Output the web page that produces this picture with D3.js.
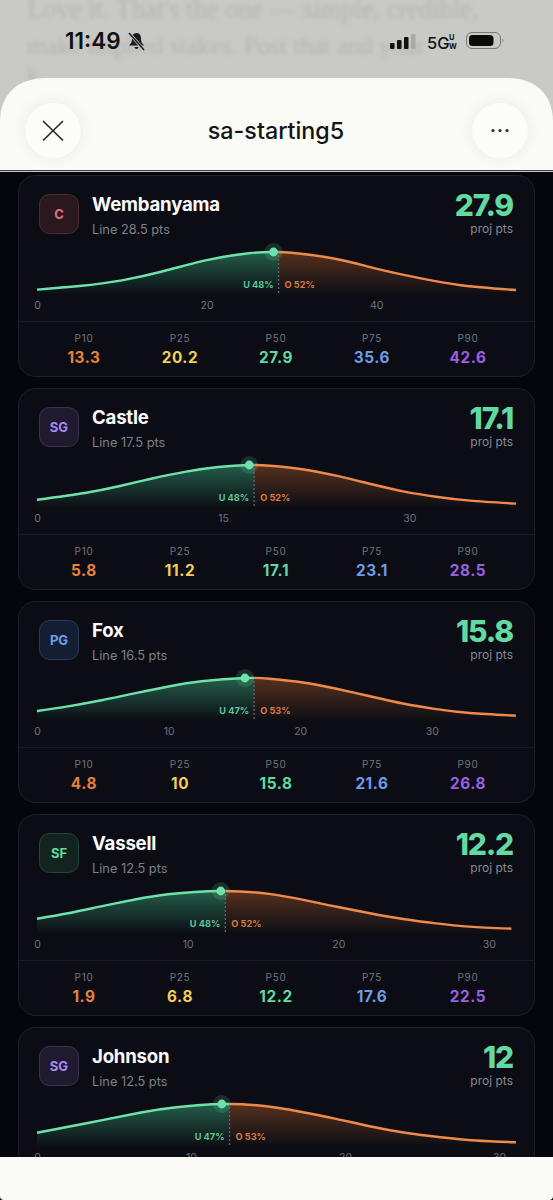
<!DOCTYPE html>
<html>
<head>
<meta charset="utf-8">
<title>sa-starting5</title>
<script src="https://cdn.jsdelivr.net/npm/d3@7"></script>
<style>
	html, body { margin: 0; padding: 0; background: #05060b; }
	svg { display: block; font-family: Inter, "Noto Sans", sans-serif; }
	.tick text { font-family: Inter, "Noto Sans", sans-serif; }
</style>
</head>
<body>
<script>
//chart values
var players = ["Wembanyama", "Castle", "Fox", "Vassell", "Johnson"];
var positions = ["C", "SG", "PG", "SF", "SG"];
var lines = [28.5, 17.5, 16.5, 12.5, 12.5];
var projections = [27.9, 17.1, 15.8, 12.2, 12];
var underPcts = [48, 48, 47, 48, 47];
var overPcts = [52, 52, 53, 52, 53];
var xMaxes = [56.5, 38.6, 36.4, 31.8, 31.1];
var xTicks = [[0, 20, 40], [0, 15, 30], [0, 10, 20, 30], [0, 10, 20, 30], [0, 10, 20, 30]];

//percentile row, Johnson's row is hidden under the bottom sheet
var pctLabels = ["P10", "P25", "P50", "P75", "P90"];
var pctColors = ["#e8803f", "#f0cf5a", "#62d9a0", "#6f9be8", "#9a5fe0"];
var pctValues = [
	[13.3, 20.2, 27.9, 35.6, 42.6],
	[5.8, 11.2, 17.1, 23.1, 28.5],
	[4.8, 10, 15.8, 21.6, 26.8],
	[1.9, 6.8, 12.2, 17.6, 22.5]
];

//distribution curves, points (height relative to its peak)
var curveX = [
	[0, 5, 10, 15, 20, 25, 27.9, 30, 35, 40, 45, 50, 56.5],
	[0, 3.85, 6.5, 9.2, 11.9, 14.6, 17.1, 18.8, 21.5, 24.2, 26.9, 29.5, 32.3, 34.9, 38.6],
	[0, 2.35, 4.9, 7.4, 10, 12.5, 15.8, 17.7, 20.2, 22.75, 25.3, 27.8, 30.35, 32.9, 36.4],
	[0, 2.06, 4.25, 6.5, 8.7, 12.2, 15.4, 17.7, 19.9, 22.1, 24.3, 26.5, 28.7, 31.5],
	[0, 3.3, 6.75, 9.05, 12, 14.75, 17.1, 19.35, 21.6, 23.9, 26.2, 28.5, 31.1]
];
var curveY = [
	[0.07, 0.16, 0.3, 0.53, 0.8, 0.97, 1, 0.98, 0.84, 0.59, 0.36, 0.18, 0.06],
	[0.143, 0.31, 0.47, 0.66, 0.83, 0.95, 1, 0.98, 0.89, 0.73, 0.53, 0.35, 0.21, 0.12, 0.045],
	[0.185, 0.3, 0.45, 0.62, 0.79, 0.92, 1, 0.98, 0.89, 0.735, 0.55, 0.37, 0.23, 0.135, 0.07],
	[0.316, 0.45, 0.62, 0.79, 0.92, 1, 0.93, 0.78, 0.61, 0.45, 0.31, 0.2, 0.12, 0.07],
	[0.29, 0.53, 0.79, 0.92, 1, 0.95, 0.81, 0.64, 0.45, 0.29, 0.18, 0.1, 0.055]
];

//badge colours per position
var badgeText = { C: "#e0707a", SG: "#a48cf0", PG: "#6f9fe8", SF: "#62d9a0" };
var badgeFill = { C: "#2a181e", SG: "#1f1a30", PG: "#141e33", SF: "#11241f" };
var badgeStroke = { C: "#4a2c33", SG: "#3a3350", PG: "#2b3a58", SF: "#24453a" };

(function () {
	var width = 553, height = 1200;
	var cardX = 18, cardW = 517, cardH = 202, cardTop = 175, cardStep = 213;
	var green = "#6ee2ab", orange = "#ef8a4a";

	var svg = d3.select("body").append("svg")
		.attr("width", width)
		.attr("height", height);

	var defs = svg.append("defs");
	defs.append("filter").attr("id", "blur")
		.append("feGaussianBlur").attr("stdDeviation", 1.9);
	var soft = defs.append("filter").attr("id", "soft")
		.attr("x", "-40%").attr("y", "-40%").attr("width", "180%").attr("height", "180%");
	soft.append("feDropShadow")
		.attr("dx", 0).attr("dy", 0).attr("stdDeviation", 7)
		.attr("flood-color", "#000").attr("flood-opacity", 0.07);

	makeGradient("fadeGreen", "#3fbf8a", 0.45);
	makeGradient("fadeOrange", "#d9702f", 0.36);

	function makeGradient(id, color, opacity) {
		var grad = defs.append("linearGradient").attr("id", id)
			.attr("gradientUnits", "userSpaceOnUse")
			.attr("x1", 0).attr("x2", 0).attr("y1", 77).attr("y2", 120);
		grad.append("stop").attr("offset", 0).attr("stop-color", color).attr("stop-opacity", opacity);
		grad.append("stop").attr("offset", 1).attr("stop-color", color).attr("stop-opacity", 0);
	}

	//page background behind the cards
	svg.append("rect").attr("width", width).attr("height", height).attr("fill", "#05060b");

	players.forEach(drawCard);
	drawTop();
	drawBottom();

	function drawCard(name, i) {
		var top = cardTop + i * cardStep;
		var g = svg.append("g").attr("transform", "translate(0," + top + ")");

		g.append("rect")
			.attr("x", cardX + 0.5).attr("y", 0.5)
			.attr("width", cardW - 1).attr("height", cardH - 1)
			.attr("rx", 17)
			.attr("fill", "#0c0d14")
			.attr("stroke", "#1d1f29");

		//position badge
		var pos = positions[i];
		g.append("rect")
			.attr("x", 39.5).attr("y", 19.5)
			.attr("width", 39).attr("height", 39).attr("rx", 10)
			.attr("fill", badgeFill[pos])
			.attr("stroke", badgeStroke[pos]);
		g.append("text")
			.attr("x", 59).attr("y", 44)
			.attr("text-anchor", "middle")
			.attr("font-size", 13).attr("font-weight", 700)
			.attr("fill", badgeText[pos])
			.text(pos);

		//name and line
		g.append("text")
			.attr("x", 92).attr("y", 36)
			.attr("font-size", 18.6).attr("font-weight", 700)
			.attr("letter-spacing", -0.2)
			.attr("fill", "#fbfbfd")
			.text(name);
		g.append("text")
			.attr("x", 92).attr("y", 59)
			.attr("font-size", 12.8)
			.attr("fill", "#7d808a")
			.text("Line " + lines[i] + " pts");

		//projection
		g.append("text")
			.attr("x", 513).attr("y", 41)
			.attr("text-anchor", "end")
			.attr("font-size", 30).attr("font-weight", 800)
			.attr("letter-spacing", -1.2)
			.attr("fill", "#62d9a0")
			.text(projections[i]);
		g.append("text")
			.attr("x", 513).attr("y", 58)
			.attr("text-anchor", "end")
			.attr("font-size", 12)
			.attr("fill", "#868993")
			.text("proj pts");

		drawCurve(g, i);

		//percentile row
		if (pctValues[i]) {
			g.append("line")
				.attr("x1", cardX + 1).attr("x2", cardX + cardW - 1)
				.attr("y1", 146.5).attr("y2", 146.5)
				.attr("stroke", "#181a23");
			var pctX = d3.scalePoint().domain(pctLabels).range([84, 468]);
			pctLabels.forEach(function (label, k) {
				g.append("text")
					.attr("x", pctX(label)).attr("y", 166.5)
					.attr("text-anchor", "middle")
					.attr("font-size", 10).attr("letter-spacing", 0.7)
					.attr("fill", "#72757f")
					.text(label);
				g.append("text")
					.attr("x", pctX(label)).attr("y", 187.5)
					.attr("text-anchor", "middle")
					.attr("font-size", 15.3).attr("font-weight", 700)
					.attr("letter-spacing", 0.6)
					.attr("fill", pctColors[k])
					.text(pctValues[i][k]);
			});
		}
	}

	function drawCurve(g, i) {
		var x = d3.scaleLinear().domain([0, xMaxes[i]]).range([37, 516]);
		var y = d3.scaleLinear().domain([0, 1]).range([117.5, 77]);
		var points = d3.zip(curveX[i], curveY[i]);

		var line = d3.line()
			.x(function (d) { return x(d[0]); })
			.y(function (d) { return y(d[1]); })
			.curve(d3.curveNatural);
		var area = d3.area()
			.x(function (d) { return x(d[0]); })
			.y0(120)
			.y1(function (d) { return y(d[1]); })
			.curve(d3.curveNatural);

		//split the curve at the betting line
		var split = x(lines[i]);
		defs.append("clipPath").attr("id", "under" + i)
			.append("rect").attr("x", 20).attr("y", 60).attr("width", split - 20).attr("height", 70);
		defs.append("clipPath").attr("id", "over" + i)
			.append("rect").attr("x", split).attr("y", 60).attr("width", 530 - split).attr("height", 70);

		g.append("path").datum(points).attr("d", area)
			.attr("clip-path", "url(#under" + i + ")").attr("fill", "url(#fadeGreen)");
		g.append("path").datum(points).attr("d", area)
			.attr("clip-path", "url(#over" + i + ")").attr("fill", "url(#fadeOrange)");
		g.append("path").datum(points).attr("d", line)
			.attr("clip-path", "url(#under" + i + ")")
			.attr("fill", "none").attr("stroke", green).attr("stroke-width", 2.4);
		g.append("path").datum(points).attr("d", line)
			.attr("clip-path", "url(#over" + i + ")")
			.attr("fill", "none").attr("stroke", orange).attr("stroke-width", 2.4);

		//dashed line marker
		g.append("line")
			.attr("x1", split).attr("x2", split)
			.attr("y1", 80).attr("y2", 119)
			.attr("stroke", "#5f626b").attr("stroke-width", 1.4)
			.attr("stroke-dasharray", "2 2");

		//median dot sits on the curve
		var k = curveX[i].indexOf(projections[i]);
		var mx = x(curveX[i][k]), my = y(curveY[i][k]);
		g.append("circle").attr("cx", mx).attr("cy", my).attr("r", 9)
			.attr("fill", green).attr("opacity", 0.16);
		g.append("circle").attr("cx", mx).attr("cy", my).attr("r", 4.4)
			.attr("fill", green);

		//under and over chances
		g.append("text")
			.attr("x", split - 5).attr("y", 112.5)
			.attr("text-anchor", "end")
			.attr("font-size", 9.2).attr("font-weight", 700)
			.attr("fill", "#5fc496")
			.text("U " + underPcts[i] + "%");
		g.append("text")
			.attr("x", split + 6).attr("y", 112.5)
			.attr("font-size", 9.2).attr("font-weight", 700)
			.attr("fill", "#d97a40")
			.text("O " + overPcts[i] + "%");

		//x axis, labels only
		var axis = g.append("g")
			.attr("transform", "translate(0,121)")
			.call(d3.axisBottom(x).tickValues(xTicks[i]).tickSize(0).tickPadding(6).tickFormat(d3.format("d")));
		axis.select(".domain").remove();
		axis.selectAll("text")
			.attr("font-size", 10.5)
			.attr("fill", "#70737d");
	}

	//blurred page, status bar and sheet header
	function drawTop() {
		svg.append("rect").attr("width", width).attr("height", 172).attr("fill", "#c9cac5");

		var behind = svg.append("g")
			.attr("filter", "url(#blur)")
			.attr("font-family", "'Liberation Serif', serif")
			.attr("fill", "#b3b4af");
		behind.append("text").attr("x", 27).attr("y", 18).attr("font-size", 26.5).text("Love it. That's the one — simple, credible,");
		behind.append("text").attr("x", 27).attr("y", 54).attr("font-size", 25).text("make implied stakes. Post that and your");
		behind.append("text").attr("x", 27).attr("y", 84).attr("font-size", 25).text("k");

		//status bar
		svg.append("text")
			.attr("x", 65).attr("y", 49)
			.attr("font-size", 22.5).attr("font-weight", 600)
			.attr("fill", "#111")
			.text("11:49");
		var bell = svg.append("g").attr("transform", "translate(128,32)");
		bell.append("path")
			.attr("d", "M8.5 1C5 1 4 4 4 7C4 10 3 11.5 1 13.5H16C14 11.5 13 10 13 7C13 4 12 1 8.5 1ZM6.5 15C7 17.5 10 17.5 10.5 15Z")
			.attr("fill", "#1a1a1a");
		bell.append("line").attr("x1", 1).attr("y1", 1).attr("x2", 16).attr("y2", 18)
			.attr("stroke", "#c9cac5").attr("stroke-width", 3);
		bell.append("line").attr("x1", 1).attr("y1", 1).attr("x2", 16).attr("y2", 18)
			.attr("stroke", "#1a1a1a").attr("stroke-width", 1.5);

		var bars = [6, 9, 12, 15];
		bars.forEach(function (h, k) {
			svg.append("rect")
				.attr("x", 390 + k * 7).attr("y", 49 - h)
				.attr("width", 4.5).attr("height", h).attr("rx", 1)
				.attr("fill", k == 3 ? "#a9aaa6" : "#111");
		});
		svg.append("text")
			.attr("x", 427).attr("y", 49)
			.attr("font-size", 16.5).attr("font-weight", 500)
			.attr("fill", "#111")
			.text("5G");
		svg.append("text").attr("x", 449).attr("y", 40)
			.attr("font-size", 7.5).attr("font-weight", 700).attr("fill", "#111").text("U");
		svg.append("text").attr("x", 449).attr("y", 49)
			.attr("font-size", 7.5).attr("font-weight", 700).attr("fill", "#111").text("W");
		svg.append("rect")
			.attr("x", 466.5).attr("y", 32.5).attr("width", 34).attr("height", 16).attr("rx", 5.5)
			.attr("fill", "none").attr("stroke", "#77787a");
		svg.append("rect")
			.attr("x", 469).attr("y", 35).attr("width", 24.5).attr("height", 11).attr("rx", 3.5)
			.attr("fill", "#0a0a0a");
		svg.append("path")
			.attr("d", "M502.5 38.5Q504.5 40.5 502.5 42.5Z")
			.attr("fill", "#77787a");

		//sheet header
		svg.append("path")
			.attr("d", "M0 170V122C0 94 18 78 46 78H507C535 78 553 94 553 122V170Z")
			.attr("fill", "#fafaf6");
		svg.append("circle").attr("cx", 53).attr("cy", 130.5).attr("r", 27.5)
			.attr("fill", "#fcfcf9").attr("filter", "url(#soft)");
		svg.append("circle").attr("cx", 500).attr("cy", 130.5).attr("r", 27.5)
			.attr("fill", "#fcfcf9").attr("filter", "url(#soft)");
		svg.append("path")
			.attr("d", "M43 121L63 140.5M63 121L43 140.5")
			.attr("fill", "none").attr("stroke", "#2b2b2b").attr("stroke-width", 1.7);
		[-7, 0, 7].forEach(function (dx) {
			svg.append("circle").attr("cx", 500 + dx).attr("cy", 130.5).attr("r", 1.6).attr("fill", "#2b2b2b");
		});
		svg.append("text")
			.attr("x", 276).attr("y", 139)
			.attr("text-anchor", "middle")
			.attr("font-size", 23.3).attr("font-weight", 500)
			.attr("fill", "#141414")
			.text("sa-starting5");
		svg.append("rect").attr("y", 170).attr("width", width).attr("height", 1).attr("fill", "#3a3b3f");
	}

	function drawBottom() {
		svg.append("path")
			.attr("d", "M0 1157H553V1196Q553 1200 549 1200H4Q0 1200 0 1196Z")
			.attr("fill", "#fafaf6");
	}
})();
</script>
</body>
</html>
